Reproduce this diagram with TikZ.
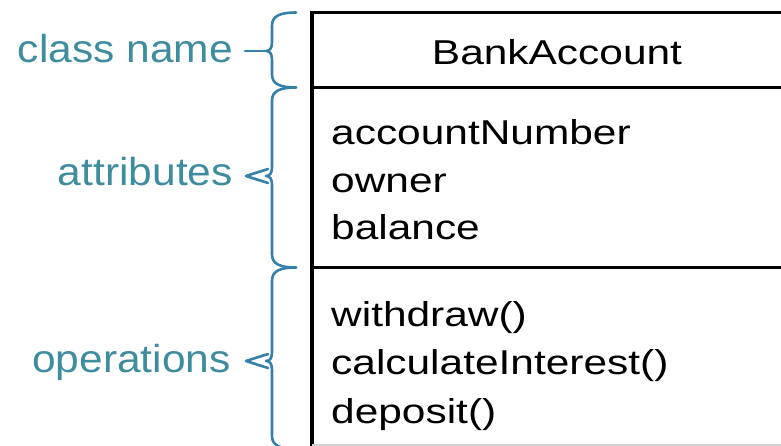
\documentclass[tikz,border=0pt]{standalone}
\usepackage{fontspec}
\setmainfont{Liberation Sans}
\newfontfamily\boxfont{Liberation Sans}[FakeStretch=1.23]
\newfontfamily\notefont{Liberation Sans}[FakeStretch=1.09]
\definecolor{notecol}{RGB}{62,140,158}
\definecolor{bracecol}{RGB}{52,128,168}

% curly brace on the left of a compartment: top y, tip y, bottom y
\newcommand\membrace[3]{%
  \draw[bracestyle] (296,#1) .. controls (281,#1) and (272,{#1+3}) .. (272,{#1+13})
    -- (272,{#2-9}) .. controls (272,{#2-3}) and (270,#2) .. (266,#2)
    .. controls (270,#2) and (272,{#2+3}) .. (272,{#2+9})
    -- (272,{#3-13}) .. controls (272,{#3-3}) and (281,#3) .. (296,#3);}

\begin{document}
\begin{tikzpicture}[x=1pt,y=-1pt,
  member/.style={anchor=base west, inner sep=0pt, font=\boxfont\fontsize{34.5}{40}\selectfont},
  note/.style={anchor=base east, inner sep=0pt, text=notecol, font=\notefont\fontsize{39}{44}\selectfont},
  bracestyle/.style={draw=bracecol, line width=2.6pt, line cap=round, line join=round},
  frame/.style={line width=3.5pt}]
\useasboundingbox (0,0) rectangle (781,446);
\clip (0,0) rectangle (781,446);

% class box (open to the right and bottom)
\coordinate (boxtl) at (312,12.5);
\coordinate (boxtr) at (785,12.5);
\coordinate (boxbl) at (312,452);
\coordinate (div1l) at (312,87.5);
\coordinate (div1r) at (785,87.5);
\coordinate (div2l) at (312,267.5);
\coordinate (div2r) at (785,267.5);
\draw[frame] (boxtr) -- (boxtl) -- (boxbl);
\draw[frame] (div1l) -- (div1r);
\draw[frame] (div2l) -- (div2r);
\draw[black!18, line width=1.5pt] (312,445) -- (785,445);

% class name
\node[member, anchor=base] (cname) at (557,65) {BankAccount};

% attributes
\node[member] (attr1) at (331,145) {accountNumber};
\node[member] (attr2) at (331,192.5) {owner};
\node[member] (attr3) at (331,240) {balance};

% operations
\node[member] (op1) at (331,326) {withdraw()};
\node[member] (op2) at (331,374.5) {calculateInterest()};
\node[member] (op3) at (331,423) {deposit()};

% annotation labels
\node[note] (lclass) at (233,63) {class name};
\node[note] (lattr) at (233,186) {attributes};
\node[note] (lops) at (231,372) {operations};

% braces
\membrace{12.5}{51}{87.5}
\membrace{87.5}{176}{267.5}
\membrace{267.5}{361}{449}

% pointers from the labels to the brace tips
\coordinate (tipclass) at (268,51);
\coordinate (endclass) at (245,51);
\draw[bracestyle] (tipclass) -- (endclass);

\coordinate (tipattr) at (246,176);
\coordinate (attra) at (268,169);
\coordinate (attrb) at (268,183);
\draw[bracestyle] (attra) -- (tipattr) -- (attrb);

\coordinate (tipops) at (246,361);
\coordinate (opsa) at (268,354);
\coordinate (opsb) at (268,368);
\draw[bracestyle] (opsa) -- (tipops) -- (opsb);
\end{tikzpicture}
\end{document}
